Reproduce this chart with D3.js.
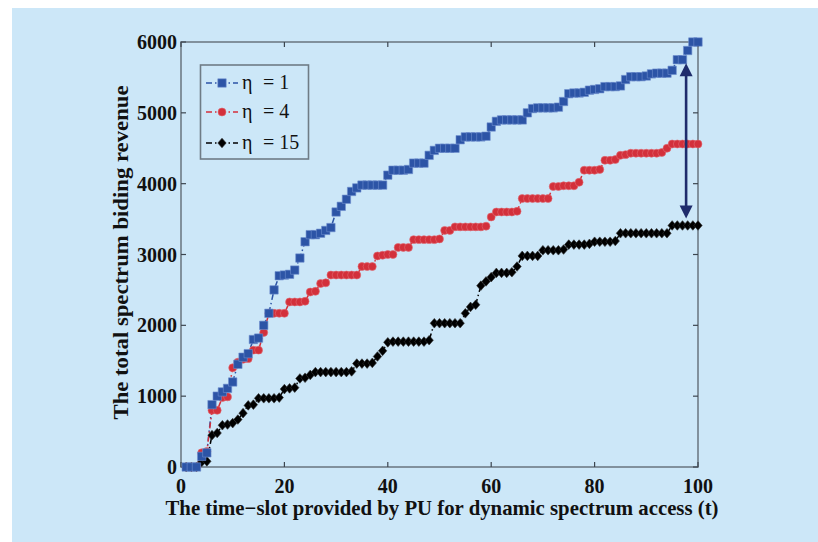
<!DOCTYPE html>
<html>
<head>
<meta charset="utf-8">
<script src="https://cdn.jsdelivr.net/npm/d3@7"></script>
<style>
  html, body { margin: 0; padding: 0; background: #ffffff; }
  svg { display: block; }
  text { font-family: "Liberation Serif", "DejaVu Serif", serif; }
</style>
</head>
<body>
<div id="chart"></div>
<script>
// time slots 1..100
const timeSlots = d3.range(1, 101);

// eta = 1
const revenueEta1 = [
  0, 0, 0, 150, 200, 880, 1000, 1060, 1110, 1200,
  1450, 1550, 1600, 1800, 1820, 2000, 2170, 2500, 2700, 2710,
  2720, 2780, 2950, 3180, 3280, 3280, 3300, 3340, 3380, 3600,
  3680, 3780, 3890, 3940, 3980, 3980, 3980, 3980, 3980, 4120,
  4190, 4190, 4190, 4200, 4290, 4290, 4290, 4400, 4470, 4500,
  4500, 4500, 4500, 4620, 4660, 4660, 4660, 4660, 4670, 4800,
  4880, 4900, 4900, 4900, 4900, 4900, 5000, 5060, 5070, 5070,
  5070, 5070, 5080, 5160, 5270, 5280, 5280, 5290, 5320, 5330,
  5340, 5370, 5370, 5370, 5380, 5470, 5510, 5510, 5510, 5520,
  5550, 5560, 5560, 5560, 5600, 5750, 5750, 5880, 6000, 6000
];

// eta = 4
const revenueEta4 = [
  0, 0, 0, 200, 220, 800, 800, 980, 990, 1400,
  1480, 1520, 1530, 1650, 1650, 1900, 2170, 2170, 2170, 2170,
  2330, 2330, 2330, 2340, 2470, 2480, 2590, 2600, 2710, 2710,
  2710, 2710, 2710, 2710, 2830, 2830, 2830, 2980, 2990, 3000,
  3000, 3100, 3100, 3100, 3210, 3210, 3210, 3210, 3210, 3220,
  3340, 3340, 3390, 3390, 3390, 3390, 3390, 3390, 3400, 3530,
  3600, 3600, 3600, 3600, 3610, 3790, 3790, 3790, 3790, 3790,
  3790, 3960, 3960, 3970, 3970, 3970, 4020, 4190, 4190, 4190,
  4200, 4330, 4330, 4340, 4400, 4410, 4430, 4430, 4430, 4430,
  4430, 4430, 4440, 4500, 4560, 4560, 4560, 4560, 4560, 4560
];

// eta = 15
const revenueEta15 = [
  0, 0, 0, 70, 80, 450, 480, 590, 600, 620,
  670, 760, 870, 880, 970, 970, 970, 970, 980, 1100,
  1110, 1120, 1250, 1260, 1300, 1340, 1340, 1340, 1340, 1340,
  1340, 1340, 1350, 1460, 1460, 1460, 1470, 1560, 1640, 1760,
  1770, 1770, 1770, 1770, 1770, 1770, 1770, 1790, 2030, 2030,
  2030, 2030, 2030, 2030, 2170, 2260, 2290, 2560, 2620, 2680,
  2740, 2740, 2740, 2750, 2830, 2980, 2980, 2980, 2980, 3060,
  3060, 3060, 3060, 3070, 3140, 3140, 3140, 3140, 3150, 3180,
  3180, 3180, 3180, 3190, 3300, 3300, 3300, 3300, 3300, 3300,
  3300, 3300, 3300, 3300, 3410, 3410, 3410, 3410, 3410, 3410
];

const seriesNames = ['η = 1', 'η = 4', 'η = 15'];
const etaValues = ['1', '4', '15'];
const xTicks = [0, 20, 40, 60, 80, 100];
const yTicks = [0, 1000, 2000, 3000, 4000, 5000, 6000];

// double arrow showing the gap at the end (data coords)
const arrowT = 97.7;
const arrowTop = 5700;
const arrowBottom = 3510;

const width = 818, height = 542;
const plot = { left: 181, right: 698, top: 42, bottom: 467 };

const svg = d3.select('#chart').append('svg')
  .attr('width', width)
  .attr('height', height);

svg.append('rect')
  .attr('x', 12).attr('y', 8)
  .attr('width', width - 12).attr('height', height - 8)
  .attr('fill', '#cce7f8');

const x = d3.scaleLinear().domain([0, 100]).range([plot.left, plot.right]);
const y = d3.scaleLinear().domain([0, 6000]).range([plot.bottom, plot.top]);

const frameColor = '#6f7c86';

// axes box
svg.append('rect')
  .attr('x', plot.left).attr('y', plot.top)
  .attr('width', plot.right - plot.left).attr('height', plot.bottom - plot.top)
  .attr('fill', 'none')
  .attr('stroke', frameColor)
  .attr('stroke-width', 1.6);

// ticks pointing inward on all four sides
const tickLen = 5;
const tickG = svg.append('g').attr('stroke', '#3c4650').attr('stroke-width', 1.2);
xTicks.forEach(t => {
  tickG.append('line').attr('x1', x(t)).attr('x2', x(t))
    .attr('y1', plot.bottom).attr('y2', plot.bottom - tickLen);
  tickG.append('line').attr('x1', x(t)).attr('x2', x(t))
    .attr('y1', plot.top).attr('y2', plot.top + tickLen);
});
yTicks.forEach(v => {
  tickG.append('line').attr('x1', plot.left).attr('x2', plot.left + tickLen)
    .attr('y1', y(v)).attr('y2', y(v));
  tickG.append('line').attr('x1', plot.right).attr('x2', plot.right - tickLen)
    .attr('y1', y(v)).attr('y2', y(v));
});

// tick labels
svg.append('g').selectAll('text')
  .data(xTicks).enter().append('text')
  .attr('x', d => x(d))
  .attr('y', 493)
  .attr('text-anchor', 'middle')
  .attr('font-size', 20)
  .attr('font-weight', 'bold')
  .attr('fill', '#111')
  .text(d => d);

svg.append('g').selectAll('text')
  .data(yTicks).enter().append('text')
  .attr('x', plot.left - 4)
  .attr('y', d => y(d) + 7)
  .attr('text-anchor', 'end')
  .attr('font-size', 20)
  .attr('font-weight', 'bold')
  .attr('fill', '#111')
  .text(d => d);

// axis titles
svg.append('text')
  .attr('x', 442)
  .attr('y', 515)
  .attr('text-anchor', 'middle')
  .attr('font-size', 21)
  .attr('font-weight', 'bold')
  .attr('fill', '#111')
  .attr('textLength', 553)
  .attr('lengthAdjust', 'spacingAndGlyphs')
  .text('The time\u2212slot provided by PU for dynamic spectrum access (t)');

svg.append('text')
  .attr('transform', 'translate(128,' + ((plot.top + plot.bottom) / 2 - 2) + ') rotate(-90)')
  .attr('text-anchor', 'middle')
  .attr('font-size', 21)
  .attr('font-weight', 'bold')
  .attr('fill', '#111')
  .attr('textLength', 334)
  .attr('lengthAdjust', 'spacingAndGlyphs')
  .text('The total spectrum biding revenue');

// marker shapes
const markers = {
  square: s => `M${-s},${-s}h${2 * s}v${2 * s}h${-2 * s}Z`,
  diamond: s => `M0,${-s * 1.15}L${s},0L0,${s * 1.15}L${-s},0Z`
};

const series = [
  { name: seriesNames[0], eta: etaValues[0], values: revenueEta1, color: '#2c54a6', edge: '#6f8fcf', shape: 'square' },
  { name: seriesNames[1], eta: etaValues[1], values: revenueEta4, color: '#d3303b', edge: '#e06a72', shape: 'circle' },
  { name: seriesNames[2], eta: etaValues[2], values: revenueEta15, color: '#000000', edge: '#333', shape: 'diamond' }
];

function drawMarker(g, shape, cx, cy, s) {
  if (shape === 'circle') {
    return g.append('circle').attr('cx', cx).attr('cy', cy).attr('r', s * 0.95);
  }
  return g.append('path').attr('d', markers[shape](s))
    .attr('transform', `translate(${cx},${cy})`);
}

const line = d3.line()
  .x((d, i) => x(timeSlots[i]))
  .y(d => y(d));

series.forEach(sr => {
  svg.append('path')
    .datum(sr.values)
    .attr('d', line)
    .attr('fill', 'none')
    .attr('stroke', sr.color)
    .attr('stroke-width', 1.5)
    .attr('stroke-dasharray', '6,3,1.5,3');
});

series.slice().reverse().forEach(sr => {
  const g = svg.append('g')
    .attr('fill', sr.color)
    .attr('stroke', sr.edge)
    .attr('stroke-width', 0.6);
  sr.values.forEach((v, i) => drawMarker(g, sr.shape, x(timeSlots[i]), y(v), 4.2));
});

// double-headed arrow
const arrowColor = '#1f2c6c';
const ax = x(arrowT), ay1 = y(arrowTop), ay2 = y(arrowBottom);
const head = 13, halfW = 6.5;
svg.append('line')
  .attr('x1', ax).attr('x2', ax)
  .attr('y1', ay1 + head - 1).attr('y2', ay2 - head + 1)
  .attr('stroke', arrowColor).attr('stroke-width', 2.6);
svg.append('path')
  .attr('d', `M${ax},${ay1}L${ax + halfW},${ay1 + head}L${ax - halfW},${ay1 + head}Z`)
  .attr('fill', arrowColor);
svg.append('path')
  .attr('d', `M${ax},${ay2}L${ax + halfW},${ay2 - head}L${ax - halfW},${ay2 - head}Z`)
  .attr('fill', arrowColor);

// legend
const legend = svg.append('g');
legend.append('rect')
  .attr('x', 200.5).attr('y', 65)
  .attr('width', 108).attr('height', 94)
  .attr('fill', 'none')
  .attr('stroke', frameColor)
  .attr('stroke-width', 1.6);

const legendRows = [83, 112, 143];
series.forEach((sr, i) => {
  const ly = legendRows[i];
  legend.append('line')
    .attr('x1', 206).attr('x2', 238)
    .attr('y1', ly).attr('y2', ly)
    .attr('stroke', sr.color)
    .attr('stroke-width', 1.5)
    .attr('stroke-dasharray', '6,3,1.5,3');
  const mg = legend.append('g').attr('fill', sr.color).attr('stroke', sr.edge).attr('stroke-width', 0.6);
  drawMarker(mg, sr.shape, 222, ly, 4.2);
  const t = legend.append('text')
    .attr('x', 242)
    .attr('y', ly + 6)
    .attr('font-size', 20)
    .attr('fill', '#111');
  t.append('tspan').text('η');
  t.append('tspan').attr('x', 263).text('= ' + sr.eta);
});
</script>
</body>
</html>
